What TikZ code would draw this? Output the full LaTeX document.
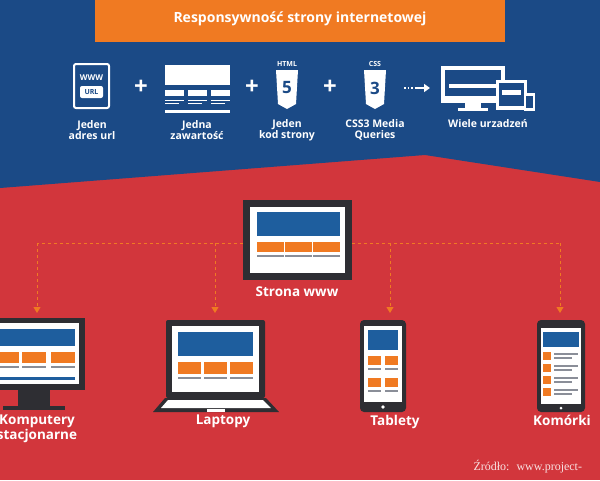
\documentclass[tikz,border=0pt]{standalone}
\usepackage{fontspec}
\setmainfont{Open Sans}
\usetikzlibrary{arrows.meta}
\definecolor{bgblue}{HTML}{1B4A86}
\definecolor{bgred}{HTML}{D2363C}
\definecolor{barorange}{HTML}{F07A22}
\definecolor{devdark}{HTML}{2E2E33}
\definecolor{scrblue}{HTML}{1E5E9E}
\definecolor{txtgrey}{HTML}{8A8E98}
\tikzset{
  lbl/.style={text=white, font=\bfseries\fontsize{10.5}{11}\selectfont, align=center, inner sep=1pt},
  big/.style={text=white, font=\bfseries\fontsize{13.5}{15}\selectfont, align=center, inner sep=1pt},
  sml/.style={text=white, font=\bfseries\fontsize{8}{8}\selectfont, align=center, inner sep=1pt},
  plus/.style={text=white, font=\bfseries\fontsize{24}{24}\selectfont},
  dev/.style={fill=devdark},
  scr/.style={fill=white},
  blk/.style={fill=barorange},
  hdr/.style={fill=scrblue},
  gln/.style={draw=txtgrey, line width=1.2pt},
  feed/.style={draw=barorange, dashed, line width=1pt},
  feedarr/.style={feed, -{Triangle[width=7pt,length=6pt]}},
}
\begin{document}
\begin{tikzpicture}[x=1pt, y=-1pt]
\useasboundingbox (0,0) rectangle (600,480);
% background
\fill[bgred] (0,0) rectangle (600,480);
\fill[bgblue] (0,0) -- (600,0) -- (600,182) -- (425,155) -- (0,188) -- cycle;
\fill[barorange] (95,0) rectangle (505,42);
\node[text=white, font=\bfseries\fontsize{14}{15}\selectfont] (title) at (300,19) {Responsywność strony internetowej};

% top row icons
\draw[white, line width=2pt, rounded corners=2pt] (74,64) rectangle (109,108);
\node[sml] (www) at (91.5,78) {WWW};
\fill[white, rounded corners=2pt] (80,86) rectangle (103,98);
\node[text=bgblue, font=\bfseries\fontsize{7}{7}\selectfont] (url) at (91.5,92) {URL};
\node[plus] (p1) at (141,87) {+};
\fill[white] (165,65) rectangle (230,85);
\foreach \x in {165,188,211} {
  \fill[white] (\x,90) rectangle ++(19,6);
  \draw[white, line width=0.5pt] (\x,100) -- ++(19,0) (\x,103) -- ++(14,0);
}
\fill[white] (165,110) rectangle (230,113);
\node[plus] (p2) at (252,87) {+};
\node[text=white, font=\bfseries\fontsize{7}{7}\selectfont] (html) at (287,64) {HTML};
\fill[white] (276,70) -- (298,70) -- (296,104) -- (287,109) -- (278,104) -- cycle;
\node[text=bgblue, font=\bfseries\fontsize{17}{17}\selectfont] (five) at (287,88) {5};
\node[plus] (p3) at (330,87) {+};
\node[text=white, font=\bfseries\fontsize{7}{7}\selectfont] (css) at (375,64) {CSS};
\fill[white] (364,70) -- (386,70) -- (384,104) -- (375,109) -- (366,104) -- cycle;
\node[text=bgblue, font=\bfseries\fontsize{17}{17}\selectfont] (three) at (375,88) {3};
\draw[white, line width=1.5pt, dotted] (404,88) -- (415,88);
\draw[white, line width=1.5pt, -{Triangle[width=8pt,length=6pt]}] (415,88) -- (430,88);
\fill[white] (441,66) rectangle (505,103);
\fill[bgblue] (445,70) rectangle (501,96);
\fill[white] (449,84) rectangle (497,88);
\fill[white] (465,103) rectangle (481,108);
\fill[white] (458,108) rectangle (488,111);
\fill[white] (496,80) rectangle (527,110);
\fill[bgblue] (499,83) rectangle (524,106);
\fill[white] (502,90) rectangle (521,95);
\fill[white] (524,93) rectangle (535,111);
\fill[bgblue] (526,96) rectangle (533,108);
\node[lbl] (l1) at (92,130) {Jeden\\adres url};
\node[lbl] (l2) at (197,130) {Jedna\\zawartość};
\node[lbl] (l3) at (287,130) {Jeden\\kod strony};
\node[lbl] (l4) at (375,130) {CSS3 Media\\Queries};
\node[lbl] (l5) at (488,124) {Wiele urzadzeń};

% main monitor
\fill[dev] (243,200) rectangle (352,280);
\fill[scr] (250,207) rectangle (345,273);
\fill[hdr] (257,212) rectangle (340,236);
\foreach \x in {257,285,313} {
  \fill[blk] (\x,242) rectangle ++(27,10);
  \draw[gln] (\x,256) -- ++(27,0);
}
\node[big] (www2) at (297,292) {Strona www};

% connectors
\coordinate (jl) at (243,243);
\coordinate (jr) at (352,243);
\draw[feed] (jl) -- (37,243);
\draw[feed] (jr) -- (560,243);
\foreach \x in {37,215,390,560}
  \draw[feedarr] (\x,243) -- (\x,313);

% desktop
\fill[dev] (-10,318) rectangle (85,390);
\fill[scr] (-5,323) rectangle (79,384);
\fill[hdr] (-5,329) rectangle (75,346);
\foreach \x in {-5,22,51} {
  \fill[blk] (\x,352) rectangle ++(24,11);
  \draw[gln] (\x,367) -- ++(24,0);
}
\fill[hdr] (-5,377) rectangle (75,380);
\fill[dev] (18,390) rectangle (50,406);
\fill[dev] (3,406) rectangle (65,410);
\node[big, anchor=north] (d1) at (37,414) {Komputery\\stacjonarne};

% laptop
\fill[dev, rounded corners=2pt] (166,320) rectangle (265,398);
\fill[scr] (172,326) rectangle (259,392);
\fill[hdr] (178,332) rectangle (253,356);
\foreach \x in {178,204,230} {
  \fill[blk] (\x,362) rectangle ++(23,12);
  \draw[gln] (\x,378) -- ++(23,0);
}
\fill[dev] (165,398) -- (266,398) -- (279,412) -- (153,412) -- cycle;
\fill[white] (168,400) -- (263,400) -- (271,408) -- (161,408) -- cycle;
\fill[white] (207,409) rectangle (225,412);
\node[big, anchor=north] (d2) at (223,414) {Laptopy};

% tablet
\fill[dev, rounded corners=4pt] (360,320) rectangle (406,412);
\fill[scr] (364,326) rectangle (402,402);
\fill[hdr] (368,330) rectangle (398,350);
\foreach \x in {368,385}
  \foreach \y in {356,378} {
    \fill[blk] (\x,\y) rectangle ++(13,9);
    \draw[gln] (\x,\y+13) -- ++(13,0);
  }
\fill[white] (383,407) circle (1.8);
\node[big, anchor=north] (d3) at (395,414) {Tablety};

% phone
\fill[dev, rounded corners=4pt] (537,320) rectangle (585,412);
\fill[scr] (541,328) rectangle (581,404);
\fill[hdr] (543,332) rectangle (579,347);
\foreach \y in {352,364,376,388} {
  \fill[blk] (543,\y) rectangle ++(8,8);
  \draw[gln] (554,\y+2) -- ++(24,0);
  \draw[gln] (554,\y+6) -- ++(18,0);
}
\fill[white] (561,408) circle (1.5);
\node[big, anchor=north] (d4) at (562,414) {Komórki};

% source
\node[anchor=west, text=white!85!bgred, font=\fontspec{Liberation Serif}\fontsize{12}{12}\selectfont] (src) at (470,467) {Źródło:~ www.project-};
\end{tikzpicture}
\end{document}
